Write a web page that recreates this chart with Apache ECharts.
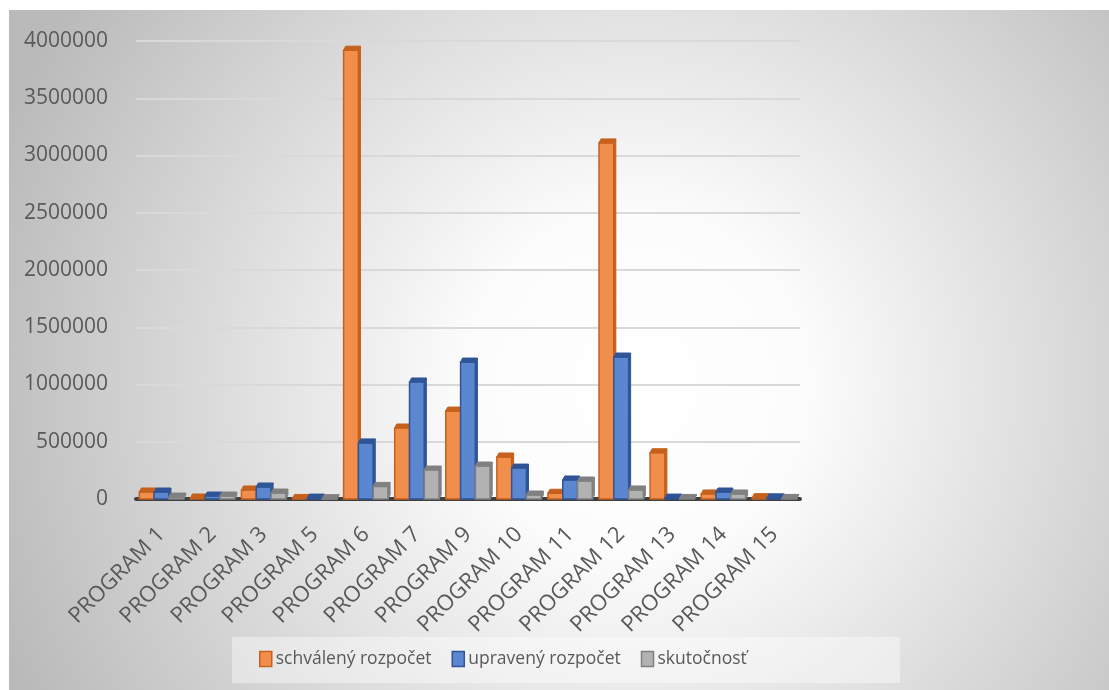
<!DOCTYPE html>
<html>
<head>
<meta charset="utf-8">
<script src="https://cdn.jsdelivr.net/npm/echarts@6/dist/echarts.min.js"></script>
<style>
html,body{margin:0;padding:0;background:#ffffff;}
#chart{width:1109px;height:690px;}
</style>
</head>
<body>
<div id="chart"></div>
<script>
var categories = ['PROGRAM 1','PROGRAM 2','PROGRAM 3','PROGRAM 5','PROGRAM 6','PROGRAM 7','PROGRAM 9','PROGRAM 10','PROGRAM 11','PROGRAM 12','PROGRAM 13','PROGRAM 14','PROGRAM 15'];
var seriesNames = ['schválený rozpočet','upravený rozpočet','skutočnosť'];
var schvaleny = [61000, 9000, 79000, 5000, 3920000, 620000, 768000, 367000, 50000, 3110000, 404000, 44000, 12000];
var upraveny = [61000, 26000, 105000, 8000, 490000, 1022000, 1196000, 270000, 166000, 1240000, 8000, 61000, 10000];
var skutocnost = [17000, 26000, 52000, 3000, 110000, 253000, 288000, 35000, 157000, 79000, 5000, 44000, 5000];
var yTicks = [0, 500000, 1000000, 1500000, 2000000, 2500000, 3000000, 3500000, 4000000];

var fills = ['#F28E4B', '#5B87D1', '#B2B2B2'];
var strokes = ['#C5611C', '#2F5597', '#808080'];

var chart = echarts.init(document.getElementById('chart'), null, {renderer:'canvas'});

function makeRender(idx){
  return function(params, api){
    var ci = api.value(0);
    var top = api.coord([ci, api.value(1)]);
    var base = api.coord([ci, 0]);
    var cw = api.size([1, 0])[0];
    var bw = cw * 0.29;
    var left = top[0] - bw * 1.5 + idx * bw;
    var h = base[1] - top[1];
    var capH = 4;
    return {
      type: 'group',
      children: [
        {
          type: 'rect',
          shape: {x: left, y: top[1], width: bw, height: Math.max(h, 0.5)},
          style: {fill: fills[idx], stroke: strokes[idx], lineWidth: 1.5}
        },
        {
          type: 'polygon',
          shape: {points: [[left, top[1]], [left + 2, top[1] - capH], [left + bw + 2, top[1] - capH], [left + bw, top[1]]]},
          style: {fill: strokes[idx], stroke: strokes[idx], lineWidth: 1}
        },
        {
          type: 'polygon',
          shape: {points: [[left + bw, top[1]], [left + bw + 2, top[1] - capH], [left + bw + 2, base[1] - capH], [left + bw, base[1]]]},
          style: {fill: strokes[idx], stroke: strokes[idx], lineWidth: 1}
        }
      ]
    };
  };
}

var dataSets = [schvaleny, upraveny, skutocnost];
var series = dataSets.map(function(arr, idx){
  return {
    name: seriesNames[idx],
    type: 'custom',
    renderItem: makeRender(idx),
    itemStyle: {color: fills[idx], borderColor: strokes[idx]},
    encode: {x: 0, y: 1},
    data: arr.map(function(v, i){ return [i, v]; }),
    z: 3 + idx
  };
});

var option = {
  animation: false,
  graphic: [
    {
      type: 'rect',
      z: -10,
      silent: true,
      shape: {x: 9, y: 10, width: 1100, height: 680},
      style: {
        fill: new echarts.graphic.RadialGradient(0.57, 0.55, 1.0, [
          {offset: 0, color: '#ffffff'},
          {offset: 0.25, color: '#fcfcfc'},
          {offset: 1, color: '#bababa'}
        ])
      }
    },
    {
      type: 'rect',
      z: -9,
      silent: true,
      shape: {x: 232, y: 637, width: 668, height: 46},
      style: {fill: 'rgba(255,255,255,0.4)'}
    }
  ],
  legend: {
    left: 259,
    top: 650,
    padding: 0,
    itemWidth: 12,
    itemHeight: 15,
    itemGap: 20,
    icon: 'rect',
    textStyle: {fontFamily: '"Open Sans", sans-serif', fontSize: 17.5, color: '#595959', padding: [0,0,0,-1]},
    data: seriesNames.map(function(n, idx){
      return {name: n, itemStyle: {color: fills[idx], borderColor: strokes[idx], borderWidth: 1.5}};
    })
  },
  grid: {left: 136, right: 309, top: 41, bottom: 191, containLabel: false},
  xAxis: {
    type: 'category',
    data: categories,
    axisLine: {show: true, lineStyle: {color: '#404040', width: 4}},
    axisTick: {show: false},
    axisLabel: {
      rotate: 45,
      interval: 0,
      margin: 32,
      fontFamily: '"Open Sans", sans-serif',
      fontSize: 22,
      color: '#595959'
    },
    splitLine: {show: false}
  },
  yAxis: {
    type: 'value',
    min: yTicks[0],
    max: yTicks[yTicks.length - 1],
    interval: yTicks[1] - yTicks[0],
    axisLine: {show: false},
    axisTick: {show: false},
    axisLabel: {
      margin: 28,
      fontFamily: '"Open Sans", sans-serif',
      fontSize: 21,
      color: '#595959',
      formatter: function(v){ return String(v); }
    },
    splitLine: {lineStyle: {color: '#d9d9d9', width: 2}}
  },
  series: series
};
chart.setOption(option);
</script>
</body>
</html>
